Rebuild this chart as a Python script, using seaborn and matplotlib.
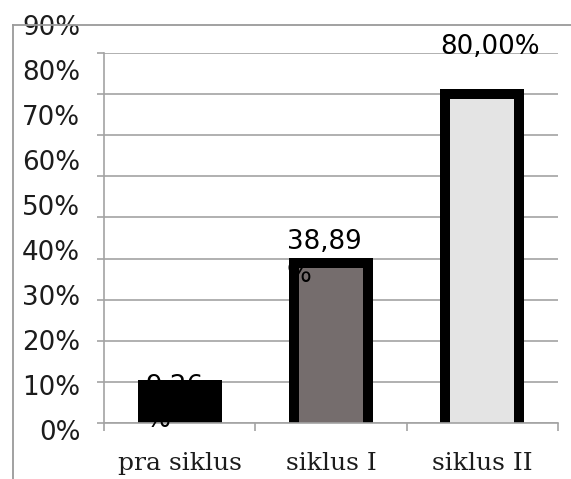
import numpy as np
import pandas as pd
import matplotlib
matplotlib.use("Agg")
import matplotlib.pyplot as plt
import seaborn as sns

# Data
categories = ["pra siklus", "siklus I", "siklus II"]
values = [0.0926, 0.3889, 0.80]
value_labels = ["9,26\n%", "38,89\n%", "80,00%"]
y_ticks = [0.0, 0.1, 0.2, 0.3, 0.4, 0.5, 0.6, 0.7, 0.8, 0.9]
y_tick_labels = ["0%", "10%", "20%", "30%", "40%", "50%", "60%", "70%", "80%", "90%"]

# Styling
bar_colors = ["#000000", "#756d6d", "#e4e4e4"]
label_dx = [-0.035, -0.045, 0.05]
label_dy = [-0.045, 0.012, 0.115]
grid_color = "#a3a3a3"
text_color = "#1c1c1c"

sns.set_theme(style="white")
plt.rcParams["font.family"] = ["DejaVu Sans"]

W, H = 571, 479
fig = plt.figure(figsize=(W / 100, H / 100), dpi=100)

# Outer frame carrying the percentage labels
ax_o = fig.add_axes([13 / W, 0, 1 - 13 / W, (H - 25) / H])
ax_o.patch.set_visible(False)
ax_o.set_ylim(-49 / 450, 0.9)
ax_o.set_xlim(0, 1)
for side in ["right", "bottom"]:
    ax_o.spines[side].set_visible(False)
for side in ["left", "top"]:
    ax_o.spines[side].set_color("#9a9a9a")
    ax_o.spines[side].set_linewidth(1.3)
ax_o.set_xticks([])
ax_o.set_yticks(y_ticks)
ax_o.set_yticklabels(y_tick_labels)
ax_o.tick_params(axis="y", length=0, pad=-48.5, labelsize=18.8, labelcolor=text_color)

# Main plotting area
ax = fig.add_axes([104 / W, 56 / H, 454 / W, 370 / H])
ax.patch.set_visible(False)

df = pd.DataFrame({"kategori": categories, "nilai": values})
sns.barplot(
    data=df, x="kategori", y="nilai", hue="kategori",
    palette=bar_colors, legend=False, width=0.49, saturation=1,
    edgecolor="black", linewidth=7.2, ax=ax, zorder=3,
)

# Let each bar start a little below the baseline so its bottom edge is clipped
drop = 0.02
for bar in ax.patches:
    bar.set_y(bar.get_y() - drop)
    bar.set_height(bar.get_height() + drop)

ax.set_xlim(-0.5, 2.5)
ax.set_ylim(0, 0.9)
ax.set_xlabel("")
ax.set_ylabel("")

ax.set_yticks(y_ticks)
ax.set_yticklabels([])
ax.yaxis.grid(True, color=grid_color, linewidth=1.2, zorder=0)
ax.xaxis.grid(False)
ax.set_axisbelow(True)
ax.tick_params(axis="y", left=True, length=5, width=1.2, color=grid_color, direction="out")

ax.set_xticks(range(len(categories)))
ax.set_xticklabels(categories, family="DejaVu Serif", fontsize=18, color=text_color)
ax.set_xticks([-0.5, 0.5, 1.5, 2.5], minor=True)
ax.tick_params(axis="x", which="major", length=0, pad=21)
ax.tick_params(axis="x", which="minor", bottom=True, length=5.5, width=1.2,
               color=grid_color, direction="out")

for side in ["right", "top"]:
    ax.spines[side].set_visible(False)
for side in ["left", "bottom"]:
    ax.spines[side].set_color(grid_color)
    ax.spines[side].set_linewidth(1.2)
    ax.spines[side].set_zorder(4)

# Value labels, in black so they merge into the dark bar
for i, (v, lab) in enumerate(zip(values, value_labels)):
    ax.text(i + label_dx[i], v + label_dy[i], lab, ha="center", va="center",
            multialignment="left", fontsize=18.8, linespacing=1.35,
            color="black", clip_on=False, zorder=5)

fig.savefig("out.png", dpi=100)
